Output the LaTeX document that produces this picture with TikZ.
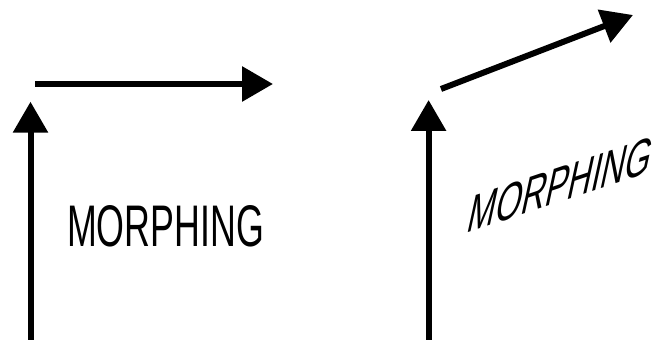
\documentclass[tikz,border=0pt]{standalone}
\usepackage{fontspec}
\setmainfont{Liberation Sans}
\usetikzlibrary{arrows.meta}

\begin{document}
\begin{tikzpicture}[x=1pt, y=1pt, line cap=butt, line join=miter]

  % ===== パラメータ =====
  \def\shaftw{6pt}
  \tikzset{
    shaft/.style={line width=\shaftw, -{Triangle[length=31pt, width=34pt]}},
    word/.style={font=\fontsize{58.7}{60}\selectfont, inner sep=0pt, anchor=base}
  }

  % ===== 枠 =====
  \useasboundingbox (0,0) rectangle (659,340);

  % ===== 左：元の図形 =====
  \coordinate (Lorg)  at (30.5,0);
  \coordinate (Ltop)  at (30.5,238.3);
  \coordinate (Hfrom) at (35,256);
  \coordinate (Hto)   at (273,256);

  \draw[shaft] (Lorg) -- (Ltop);
  \draw[shaft] (Hfrom) -- (Hto);

  \node[word, xscale=0.61] (wordL) at (165.5,93) {MORPHING};

  % ===== 右：変形後 =====
  \coordinate (Rorg)  at (428.6,0);
  \coordinate (Rtop)  at (428.6,240);
  \coordinate (Sfrom) at (441,251);
  \coordinate (Sto)   at (633,325);

  \draw[shaft] (Rorg) -- (Rtop);
  \draw[shaft] (Sfrom) -- (Sto);

  % ---- 斜めの文字（回転＋傾斜）----
  \node[word, cm={0.566,0.190,0.20,0.92,(0,0)}] (wordR) at (557,137) {MORPHING};

\end{tikzpicture}
\end{document}
